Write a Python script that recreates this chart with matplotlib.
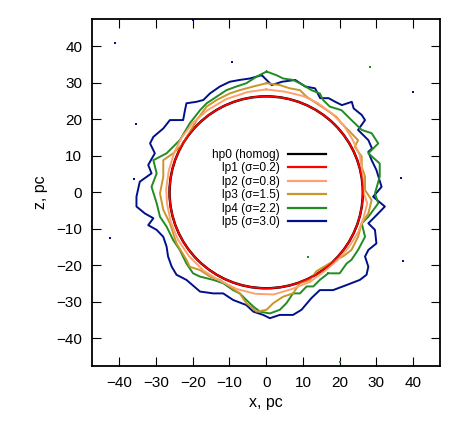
import matplotlib
matplotlib.use("Agg")
import matplotlib.pyplot as plt
from matplotlib.patches import Circle
from matplotlib.lines import Line2D

plt.rcParams['font.family'] = ['Liberation Sans', 'DejaVu Sans']

labels = ["hp0 (homog)", "lp1 (σ=0.2)", "lp2 (σ=0.8)", "lp3 (σ=1.5)", "lp4 (σ=2.2)", "lp5 (σ=3.0)"]
colors = ["#000000", "#ff0000", "#ffa070", "#c8962a", "#228b22", "#00108a"]

hp0_radius = 26.3
lp1_radius = 26.3

lp2_x = [0, 5, 10, 14, 18, 21, 23.5, 25.5, 26.2, 26.5, 27.5, 26.5, 25, 22.5, 19.5, 16, 12, 7, 2,
         -3, -8, -13, -17, -21, -24, -26, -27, -27.2, -26.5, -25, -23, -20, -16, -11, -5, 0]
lp2_y = [28.2, 27.6, 26.4, 24.5, 21.5, 18.5, 14.5, 10, 5, 0, -3, -7, -11, -15, -18.5, -21.5, -24.5, -26.5, -28,
         -27.8, -26.5, -24, -21.5, -17.5, -13, -8, -3, 1, 6, 11, 15, 19, 22.5, 25.5, 27.5, 28.2]

lp3_x = [0.1, 3.7, 6.4, 9.2, 11.0, 13.7, 16.4, 19.1, 20.5, 22.3, 25.0, 24.1, 26.0, 26.0, 26.9, 26.9, 28.7,
         27.8, 26.0, 25.0, 23.2, 21.0, 18.0, 16.4, 13.7, 11.9, 9.2, 7.3, 4.6, 1.9, 0.1, -2.6, -5.4,
         -7.2, -9.9, -12.6, -15.3, -18.0, -20.8, -21.7, -24.4, -26.2, -28.0, -28.9, -28.0, -28.0, -25.3,
         -22.6, -18.9, -16.2, -13.5, -9.9, -7.2, -3.5, 0.1]
lp3_y = [29.9, 29.4, 28.5, 28.0, 26.2, 24.4, 22.6, 20.7, 18.9, 17.1, 14.3, 12.5, 9.8, 7.0, 4.3, 0.6, -2.1,
         -5.8, -8.5, -12.2, -15.8, -17.5, -19.0, -20.0, -21.6, -24.0, -24.9, -27.7, -28.6, -30.4, -32.2,
         -32.7, -30.4, -27.7, -25.8, -24.0, -23.1, -21.3, -20.4, -18.5, -14.0, -8.5, -4.8, -0.3, 4.3, 8.8,
         10.7, 13.4, 19.8, 23.5, 25.3, 27.1, 28.0, 29.0, 29.9]

lp4_x = [0.1, 2.8, 4.6, 7.3, 10.1, 12.3, 14.6, 15.5, 17.3, 20.5, 23.2, 26.0, 28.7, 30.5, 27.8, 30.9, 30.9,
         29.6, 30.5, 27.8, 26.0, 26.9, 25.0, 23.2, 21.9, 20.0, 16.9, 14.6, 12.8, 11.0, 9.2, 7.3, 5.5, 3.7,
         1.0, -1.7, -3.5, -5.4, -7.2, -9.0, -11.7, -14.4, -18.0, -19.9, -21.7, -23.5, -25.3, -27.1, -28.9,
         -29.8, -31.2, -29.8, -30.7, -27.1, -23.5, -20.8, -18.0, -16.2, -13.5, -10.8, -8.1, -5.4, -2.6, 0.1]
lp4_y = [33.1, 32.1, 31.2, 30.8, 29.4, 28.0, 27.1, 25.3, 23.5, 22.5, 19.8, 17.1, 16.2, 13.4, 10.7, 7.9,
         4.3, -0.3, -3.0, -6.7, -8.5, -12.2, -15.8, -18.5, -19.5, -22.2, -22.2, -24.0, -25.8, -25.8, -27.7,
         -27.7, -30.4, -32.2, -33.2, -32.7, -31.3, -29.5, -27.7, -26.8, -24.9, -24.0, -23.1, -22.2, -19.5,
         -15.8, -13.1, -9.4, -6.7, -3.0, 1.5, 5.2, 8.8, 10.7, 14.3, 18.9, 22.5, 24.4, 26.2, 28.0, 29.0,
         29.9, 31.7, 33.1]

lp5_x = [-1.2, 1.5, 4.3, 7.9, 10.6, 13.3, 14.7, 17.0, 18.8, 20.6, 23.3, 23.8, 26.0, 26.9, 25.0, 27.8, 28.8,
         27.8, 28.7, 30.0, 31.4, 29.1, 32.3, 29.6, 27.8, 29.6, 30.0, 27.8, 26.9, 27.8, 27.3, 25.5, 21.9,
         18.2, 14.6, 12.3, 9.6, 7.3, 3.7, 1.0, -0.8, -3.5, -5.4, -9.0, -11.7, -14.4, -18.0, -21.7, -24.4,
         -25.7, -26.7, -27.1, -28.0, -29.8, -32.1, -30.7, -33.0, -35.3, -35.3, -34.4, -31.2, -32.1, -30.3,
         -31.6, -30.7, -28.0, -26.2, -22.6, -22.1, -21.7, -19.0, -17.1, -15.3, -12.6, -9.9, -7.2, -4.4, -1.2]
lp5_y = [32.1, 29.4, 30.3, 30.8, 29.0, 28.5, 25.8, 25.8, 24.8, 23.9, 24.8, 23.0, 21.2, 19.8, 17.1, 14.3,
         12.0, 11.1, 8.8, 6.1, 1.5, -1.2, -3.9, -6.7, -8.5, -10.3, -14.0, -15.8, -17.6, -20.4, -22.6, -24.0,
         -25.4, -26.8, -26.8, -29.0, -32.2, -33.6, -33.6, -34.5, -33.6, -32.7, -30.9, -29.5, -27.7, -27.7,
         -27.2, -24.0, -22.6, -20.4, -17.6, -14.9, -12.2, -10.3, -9.0, -7.1, -5.8, -3.9, -1.2, 2.9, 5.2,
         7.5, 10.7, 13.4, 15.2, 17.5, 19.8, 19.8, 22.5, 24.4, 24.8, 25.3, 27.1, 29.0, 30.3, 30.8, 31.2, 32.1]

lp5_dots_x = [-41.2, -9.3, -35.3, -35.9, -42.5, 36.6, 37.3, 40.0, -19.9]
lp5_dots_y = [40.8, 35.6, 18.7, 3.7, -12.4, 3.8, -18.8, 27.4, 47.2]
lp4_dots_x = [28.2, 11.4, 20.2, 16.9]
lp4_dots_y = [34.4, -17.6, -46.4, -22.0]

ticks = [-40, -30, -20, -10, 0, 10, 20, 30, 40]

fig = plt.figure(figsize=(4.63, 4.21), dpi=100)
ax = fig.add_axes([92/463, 1-366/421, 348/463, 347/421])

lw = 1.4
ax.add_patch(Circle((0, 0), hp0_radius, fill=False, edgecolor=colors[0], lw=1.8, zorder=2))
series = [(lp2_x, lp2_y), (lp3_x, lp3_y), (lp4_x, lp4_y), (lp5_x, lp5_y)]
for i, (xs, ys) in enumerate(series):
    ax.plot(xs, ys, color=colors[i + 2], lw=lw, zorder=6 - i)
ax.add_patch(Circle((0, 0), lp1_radius, fill=False, edgecolor=colors[1], lw=1.3, zorder=8))
ax.plot(lp5_dots_x, lp5_dots_y, ls='none', marker='s', ms=1.8, color=colors[5], mew=0)
ax.plot(lp4_dots_x, lp4_dots_y, ls='none', marker='s', ms=1.8, color=colors[4], mew=0)

ax.set_xlim(-47.4, 47.3)
ax.set_ylim(-47.6, 47.5)
ax.set_xticks(ticks)
ax.set_yticks(ticks)
ax.tick_params(direction='in', length=6.5, width=0.8, top=True, right=True, labelsize=11, pad=7)
for s in ax.spines.values():
    s.set_linewidth(1.3)
ax.set_xlabel("x, pc", fontsize=11.5, labelpad=4)
ax.set_ylabel("z, pc", fontsize=11.5, labelpad=6)

handles = [Line2D([], [], color=c, lw=1.6) for c in colors]
leg = ax.legend(handles, labels, loc='upper right', bbox_to_anchor=((326-92)/348, (366-149)/347),
                frameon=False, markerfirst=False, fontsize=8.6, borderpad=0, borderaxespad=0,
                handlelength=3.2, handletextpad=0.7, labelspacing=0.12)

fig.savefig("out.png", dpi=100)
